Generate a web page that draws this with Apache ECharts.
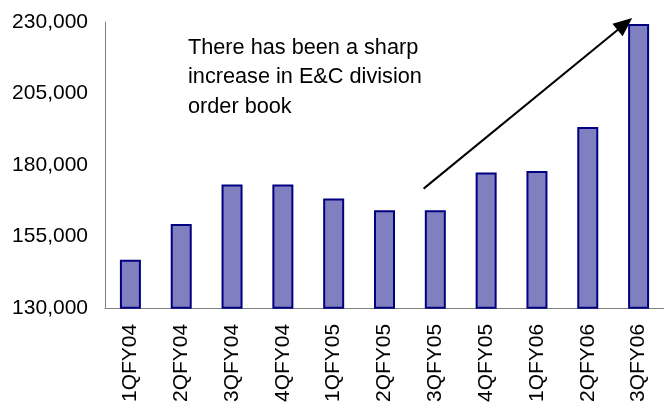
<!DOCTYPE html>
<html>
<head>
<meta charset="utf-8">
<script src="https://cdn.jsdelivr.net/npm/echarts@6/dist/echarts.min.js"></script>
<style>
html,body{margin:0;padding:0;background:#fff;}
#main{width:664px;height:405px;}
</style>
</head>
<body>
<div id="main"></div>
<script>
var categories = ['1QFY04','2QFY04','3QFY04','4QFY04','1QFY05','2QFY05','3QFY05','4QFY05','1QFY06','2QFY06','3QFY06'];
var orderBook = [146800, 159300, 173100, 173100, 168200, 164100, 164100, 177300, 177900, 193300, 229300];
var yTicks = [130000, 155000, 180000, 205000, 230000];
var annotationText = ['There has been a sharp', 'increase in E&C division', 'order book'];
// arrow endpoints: [category position (0..11 along axis), value]
var arrowFrom = [6.27, 171700];
var arrowTo = [10.23, 229300];

var chart = echarts.init(document.getElementById('main'), null, {renderer:'canvas'});
var font = '"Liberation Sans", Arial, sans-serif';
chart.setOption({
  animation: false,
  backgroundColor: '#ffffff',
  title: {
    text: annotationText.join('\n'),
    left: 188,
    top: 33,
    padding: 0,
    textStyle: {fontFamily: font, fontSize: 21.7, fontWeight: 'normal', color: '#000', lineHeight: 29.5}
  },
  grid: {left: 105, top: 22, width: 564, height: 288, containLabel: false},
  xAxis: [{
    type: 'category',
    data: categories,
    axisLine: {show: true, lineStyle: {color: '#808080', width: 1}},
    axisTick: {show: false},
    axisLabel: {rotate: 90, margin: 16, fontFamily: font, fontSize: 21, color: '#000', interval: 0}
  }, {
    type: 'value', min: 0, max: 11, show: false
  }],
  yAxis: {
    type: 'value',
    min: yTicks[0],
    max: yTicks[yTicks.length - 1],
    interval: yTicks[1] - yTicks[0],
    axisLine: {show: true, lineStyle: {color: '#808080', width: 1}},
    axisTick: {show: false},
    splitLine: {show: false},
    axisLabel: {
      margin: 17, fontFamily: font, fontSize: 21, color: '#000',
      formatter: function (v) { return v.toLocaleString('en-US'); }
    }
  },
  series: [{
    type: 'bar',
    data: orderBook,
    barWidth: 21,
    itemStyle: {color: '#8080C0', borderColor: '#000080', borderWidth: 2}
  }, {
    type: 'line',
    xAxisIndex: 1,
    data: [arrowFrom, arrowTo],
    showSymbol: false,
    symbol: 'none',
    lineStyle: {opacity: 0},
    silent: true,
    markLine: {
      silent: true,
      symbol: ['none', 'triangle'],
      symbolSize: [16, 19],
      label: {show: false},
      lineStyle: {color: '#000', width: 2, type: 'solid'},
      data: [[{coord: arrowFrom}, {coord: arrowTo}]]
    }
  }]
});
</script>
</body>
</html>
